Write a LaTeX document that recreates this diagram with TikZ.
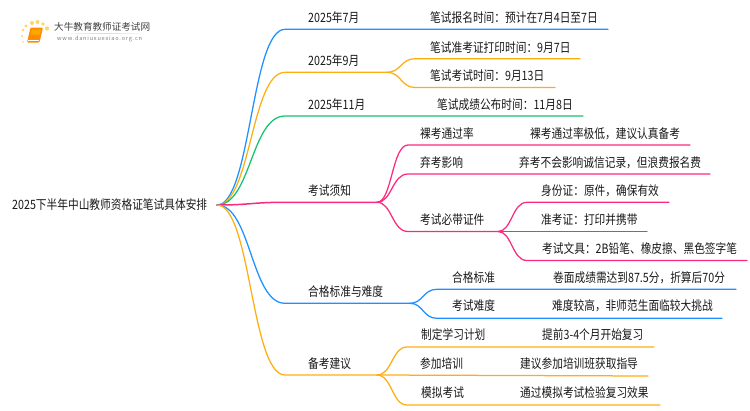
\documentclass[tikz,border=0pt]{standalone}
\usepackage{graphicx}
\usepackage{fontspec}
\setmainfont{Noto Sans CJK SC}
\newcommand{\tl}[1]{\scalebox{1}[1.2]{#1}}
\begin{document}
\begin{tikzpicture}[x=1pt,y=-1pt,
  lbl/.style={anchor=west,inner sep=0pt,text=black!90,font=\fontsize{10.7}{12}\selectfont},
  bl/.style={draw=cBlue,line width=1.25pt,line cap=round},
  or/.style={draw=cOrange,line width=1.25pt,line cap=round},
  gr/.style={draw=cGreen,line width=1.25pt,line cap=round},
  pk/.style={draw=cPink,line width=1.25pt,line cap=round}]
\definecolor{cBlue}{HTML}{1E90FF}
\definecolor{cOrange}{HTML}{FFAE12}
\definecolor{cGreen}{HTML}{14C36F}
\definecolor{cPink}{HTML}{FA2A7E}
\useasboundingbox (0,0) rectangle (750,410);
\fill[white] (0,0) rectangle (750,410);
% logo
\foreach \px/\py/\r in {32/23/2.0,37.5/22/2.0,43/24/1.8,47/28.5/2.1,26/26/1.6,23/30/1.4,22/36/1.1,23/42/.8}
  \fill[orange!55!yellow,opacity=.6] (\px,\py) circle (\r);
\fill[orange!90!yellow,rounded corners=1.2pt] (30.5,27.5) -- (43,27.5) -- (39.5,42.5) -- (27,42.5) -- cycle;
\fill[orange!70!yellow,rounded corners=.8pt] (32,29.5) -- (41.5,29.5) -- (39.5,34.5) -- (30.5,34.5) -- cycle;
\draw[white,line width=.6pt] (28,40.6) -- (39,40.6);
\shade[left color=white,right color=white,middle color=black!15] (60,33.2) rectangle (148,33.9);
\node[anchor=west,inner sep=0pt,text=black!75,font=\fontsize{9.6}{11}\selectfont] (logoA) at (54,27) {大牛教育教师证考试网};
\node[anchor=west,inner sep=0pt,text=black!50,font=\fontsize{5.6}{7}\selectfont,
  ] (logoB) at (57,39) {\addfontfeature{LetterSpace=14}www.daniuxuexiao.org.cn};
% text
\node[lbl] (root) at (12,205) {\tl{2025下半年中山教师资格证笔试具体安排}};
\node[lbl] (a1) at (308,18) {\tl{2025年7月}};
\node[lbl] (a1a) at (430,18) {\tl{笔试报名时间：预计在7月4日至7日}};
\node[lbl] (a2) at (308,61) {\tl{2025年9月}};
\node[lbl] (a2a) at (430,47.5) {\tl{笔试准考证打印时间：9月7日}};
\node[lbl] (a2b) at (430,76) {\tl{笔试考试时间：9月13日}};
\node[lbl] (a3) at (308,105) {\tl{2025年11月}};
\node[lbl] (a3a) at (437,105) {\tl{笔试成绩公布时间：11月8日}};
\node[lbl] (a4) at (308,191) {\tl{考试须知}};
\node[lbl] (a4a) at (420,134) {\tl{裸考通过率}};
\node[lbl] (a4ax) at (530,134) {\tl{裸考通过率极低，建议认真备考}};
\node[lbl] (a4b) at (420,163) {\tl{弃考影响}};
\node[lbl] (a4bx) at (519,163) {\tl{弃考不会影响诚信记录，但浪费报名费}};
\node[lbl] (a4c) at (420,220) {\tl{考试必带证件}};
\node[lbl] (a4c1) at (541,191) {\tl{身份证：原件，确保有效}};
\node[lbl] (a4c2) at (541,220) {\tl{准考证：打印并携带}};
\node[lbl] (a4c3) at (542,249) {\tl{考试文具：2B铅笔、橡皮擦、黑色签字笔}};
\node[lbl] (a5) at (308,292) {\tl{合格标准与难度}};
\node[lbl] (a5a) at (452,277.5) {\tl{合格标准}};
\node[lbl] (a5ax) at (553,277.5) {\tl{卷面成绩需达到87.5分，折算后70分}};
\node[lbl] (a5b) at (452,306) {\tl{考试难度}};
\node[lbl] (a5bx) at (552,306) {\tl{难度较高，非师范生面临较大挑战}};
\node[lbl] (a6) at (308,364) {\tl{备考建议}};
\node[lbl] (a6a) at (421,335) {\tl{制定学习计划}};
\node[lbl] (a6ax) at (542,335) {\tl{提前3-4个月开始复习}};
\node[lbl] (a6b) at (420,364) {\tl{参加培训}};
\node[lbl] (a6bx) at (520,364) {\tl{建议参加培训班获取指导}};
\node[lbl] (a6c) at (421,393) {\tl{模拟考试}};
\node[lbl] (a6cx) at (520,393) {\tl{通过模拟考试检验复习效果}};
% junctions and line ends
\coordinate (r) at (217,205);
\coordinate (e1) at (608,29.3);
\coordinate (j2) at (387,72.3); \coordinate (e2a) at (580,58.7); \coordinate (e2b) at (555,87.5);
\coordinate (e3) at (583,116);
\coordinate (j4) at (377,202.3); \coordinate (e4a) at (690,145); \coordinate (e4b) at (710,174);
\coordinate (j4c) at (498,231.5); \coordinate (e4c1) at (669,202.3); \coordinate (e4c2) at (647,231.5); \coordinate (e4c3) at (747,260.5);
\coordinate (j5) at (410,303.3); \coordinate (e5a) at (736,289.3); \coordinate (e5b) at (722,318.3);
\coordinate (j6) at (377,375); \coordinate (e6a) at (654,347); \coordinate (e6b) at (648,376); \coordinate (e6c) at (660,405);
% level 1
\draw[bl] (r) .. controls (251,205) and (251,29.3) .. (285,29.3) -- (e1);
\draw[or] (r) .. controls (251,205) and (251,72.3) .. (285,72.3) -- (j2);
\draw[gr] (r) .. controls (251,205) and (251,116) .. (285,116) -- (e3);
\draw[pk,line width=1.5pt] (r) .. controls (251,205) and (251,202.3) .. (285,202.3) -- (j4);
\draw[bl] (r) .. controls (251,205) and (251,303.3) .. (285,303.3) -- (j5);
\draw[or] (r) .. controls (251,205) and (251,375) .. (285,375) -- (j6);
% forks
\draw[or] (j2) .. controls (401,72.3) and (401,58.7) .. (415,58.7) -- (e2a);
\draw[or] (j2) .. controls (401,72.3) and (401,87.5) .. (415,87.5) -- (e2b);
\draw[pk] (j4) .. controls (392,202.3) and (392,145) .. (408,145) -- (e4a);
\draw[pk] (j4) .. controls (392,202.3) and (392,174) .. (408,174) -- (e4b);
\draw[pk] (j4) .. controls (392,202.3) and (392,231.5) .. (408,231.5) -- (j4c);
\draw[pk] (j4c) .. controls (512,231.5) and (512,202.3) .. (527,202.3) -- (e4c1);
\draw[pk] (j4c) -- (e4c2);
\draw[pk] (j4c) .. controls (512,231.5) and (512,260.5) .. (527,260.5) -- (e4c3);
\draw[bl] (j5) .. controls (423,303.3) and (423,289.3) .. (437,289.3) -- (e5a);
\draw[bl] (j5) .. controls (423,303.3) and (423,318.3) .. (437,318.3) -- (e5b);
\draw[or] (j6) .. controls (392,375) and (392,347) .. (407,347) -- (e6a);
\draw[or] (j6) -- (e6b);
\draw[or] (j6) .. controls (392,375) and (392,405) .. (407,405) -- (e6c);
\end{tikzpicture}
\end{document}
